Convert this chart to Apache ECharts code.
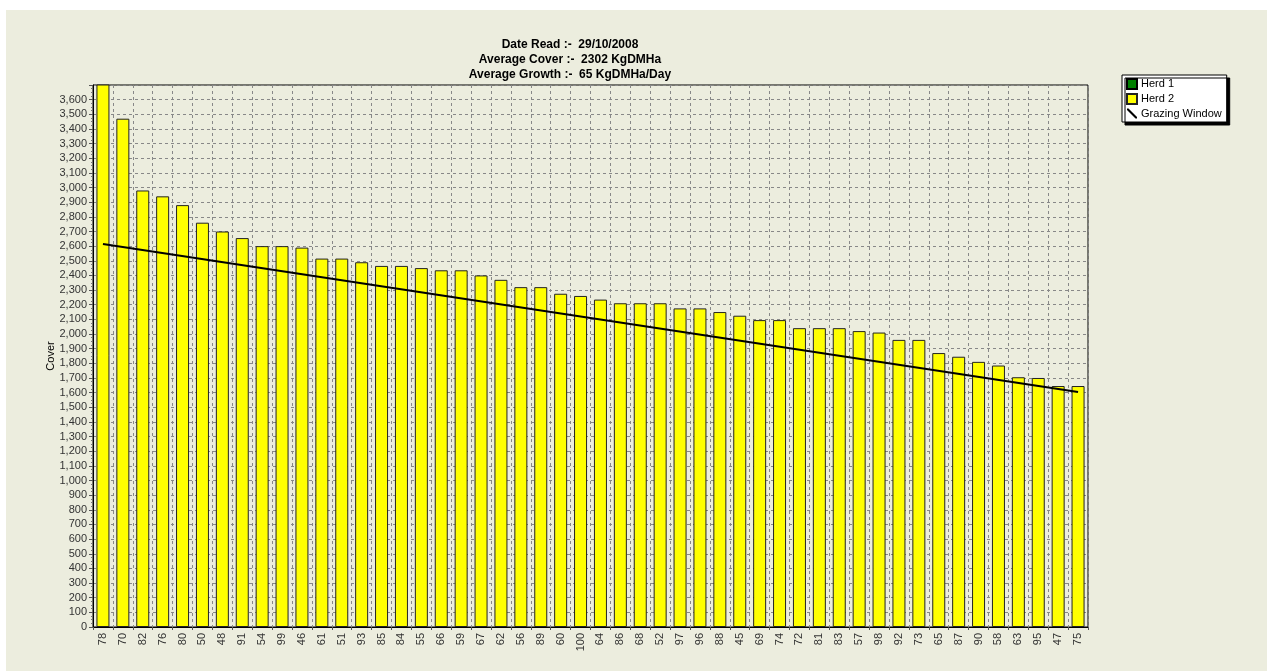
<!DOCTYPE html>
<html>
<head>
<meta charset="utf-8">
<title>Grazing Wedge</title>
<script src="https://cdn.jsdelivr.net/npm/echarts@6/dist/echarts.min.js"></script>
<style>
    body { margin: 0; background: #fff; }
    #main { position: absolute; left: 6px; top: 10px; width: 1261px; height: 661px; }
</style>
</head>
<body>
<div id="main"></div>
<script>
    // 围栏编号 (paddocks)
    var paddocks = ['78','70','82','76','80','50','48','91','54','99','46','61','51','93','85','84','55','66','59','67',
        '62','56','89','60','100','64','86','68','52','97','96','88','45','69','74','72','81','83','57','98',
        '92','73','65','87','90','58','63','95','47','75'];

    // Herd 2 cover values (KgDM/Ha)
    var herd2Cover = [3800, 3470, 2980, 2940, 2880, 2760, 2700, 2655, 2600, 2600,
        2590, 2515, 2515, 2490, 2465, 2465, 2450, 2435, 2435, 2400,
        2370, 2320, 2320, 2275, 2260, 2235, 2210, 2210, 2210, 2175,
        2175, 2150, 2125, 2095, 2095, 2040, 2040, 2040, 2020, 2010,
        1960, 1960, 1870, 1845, 1810, 1785, 1705, 1700, 1645, 1645];

    // Herd 1 has no paddocks on this date
    var herd1Cover = [];

    // grazing window: straight line from first to last paddock
    var grazingStart = 2615;
    var grazingEnd = 1605;

    var yTicks = { min: 0, max: 3700, interval: 100 };

    var titleLines = ['Date Read :-  29/10/2008', 'Average Cover :-  2302 KgDMHa', 'Average Growth :-  65 KgDMHa/Day'];

    var grazingData = paddocks.map(function (p, i) {
        if (i === 0) return grazingStart;
        if (i === paddocks.length - 1) return grazingEnd;
        return null;
    });

    var chart = echarts.init(document.getElementById('main'));
    var font = 'Liberation Sans, Arial, sans-serif';

    var option = {
        backgroundColor: '#ECEDDE',
        animation: false,
        textStyle: { fontFamily: font },
        title: {
            text: titleLines.join('\n'),
            left: 559,
            top: 22,
            textAlign: 'center',
            textStyle: { fontSize: 12, fontWeight: 'bold', color: '#000', lineHeight: 15, fontFamily: font }
        },
        legend: {
            orient: 'vertical',
            left: 1116,
            top: 65,
            backgroundColor: '#fff',
            borderColor: '#000',
            borderWidth: 1,
            shadowColor: '#000',
            shadowOffsetX: 3,
            shadowOffsetY: 3,
            shadowBlur: 0,
            padding: [3, 5, 3, 4],
            itemGap: 3,
            itemWidth: 10,
            itemHeight: 10,
            textStyle: { fontSize: 11, color: '#000', padding: [2, 0, 0, -1] },
            data: [
                { name: 'Herd 1', icon: 'rect' },
                { name: 'Herd 2', icon: 'rect' },
                { name: 'Grazing Window', icon: 'path://M0,0L1.5,0L10,8.5L10,10L8.5,10L0,1.5Z' }
            ]
        },
        grid: {
            left: 87,
            top: 75,
            right: 179,
            bottom: 44,
            show: true,
            borderColor: '#000',
            borderWidth: 1
        },
        xAxis: {
            type: 'category',
            data: paddocks,
            axisLine: { lineStyle: { color: '#000' } },
            axisTick: { show: true, interval: 0, length: 3, lineStyle: { color: '#555' } },
            axisLabel: { interval: 0, rotate: 90, fontSize: 11, color: '#333', margin: 6 },
            splitLine: { show: true, interval: 0, lineStyle: { color: '#888', type: [3, 3] } }
        },
        yAxis: {
            type: 'value',
            name: 'Cover',
            nameLocation: 'middle',
            nameGap: 37,
            nameMoveOverlap: false,
            nameTextStyle: { fontSize: 11, color: '#000' },
            min: yTicks.min,
            max: yTicks.max,
            interval: yTicks.interval,
            axisLine: { show: true, lineStyle: { color: '#000' } },
            axisTick: { show: true, length: 4, lineStyle: { color: '#555' } },
            minorTick: { show: true, splitNumber: 4, length: 2, lineStyle: { color: '#777' } },
            axisLabel: {
                fontSize: 11,
                color: '#333',
                margin: 6,
                showMaxLabel: false,
                formatter: function (v) { return v.toLocaleString('en-US'); }
            },
            splitLine: { show: true, lineStyle: { color: '#888', type: [3, 3] } }
        },
        series: [
            {
                name: 'Herd 1',
                type: 'bar',
                data: herd1Cover,
                barWidth: 13,
                barGap: '-100%',
                itemStyle: { color: '#008000', borderColor: '#000', borderWidth: 1 }
            },
            {
                name: 'Herd 2',
                type: 'bar',
                data: herd2Cover,
                barWidth: 13,
                barGap: '-100%',
                clip: true,
                itemStyle: { color: '#FFFF00', borderColor: '#222', borderWidth: 1 }
            },
            {
                name: 'Grazing Window',
                type: 'line',
                data: grazingData,
                connectNulls: true,
                symbol: 'none',
                itemStyle: { color: '#000' },
                lineStyle: { color: '#000', width: 2 },
                z: 5
            }
        ]
    };

    chart.setOption(option);
</script>
</body>
</html>
